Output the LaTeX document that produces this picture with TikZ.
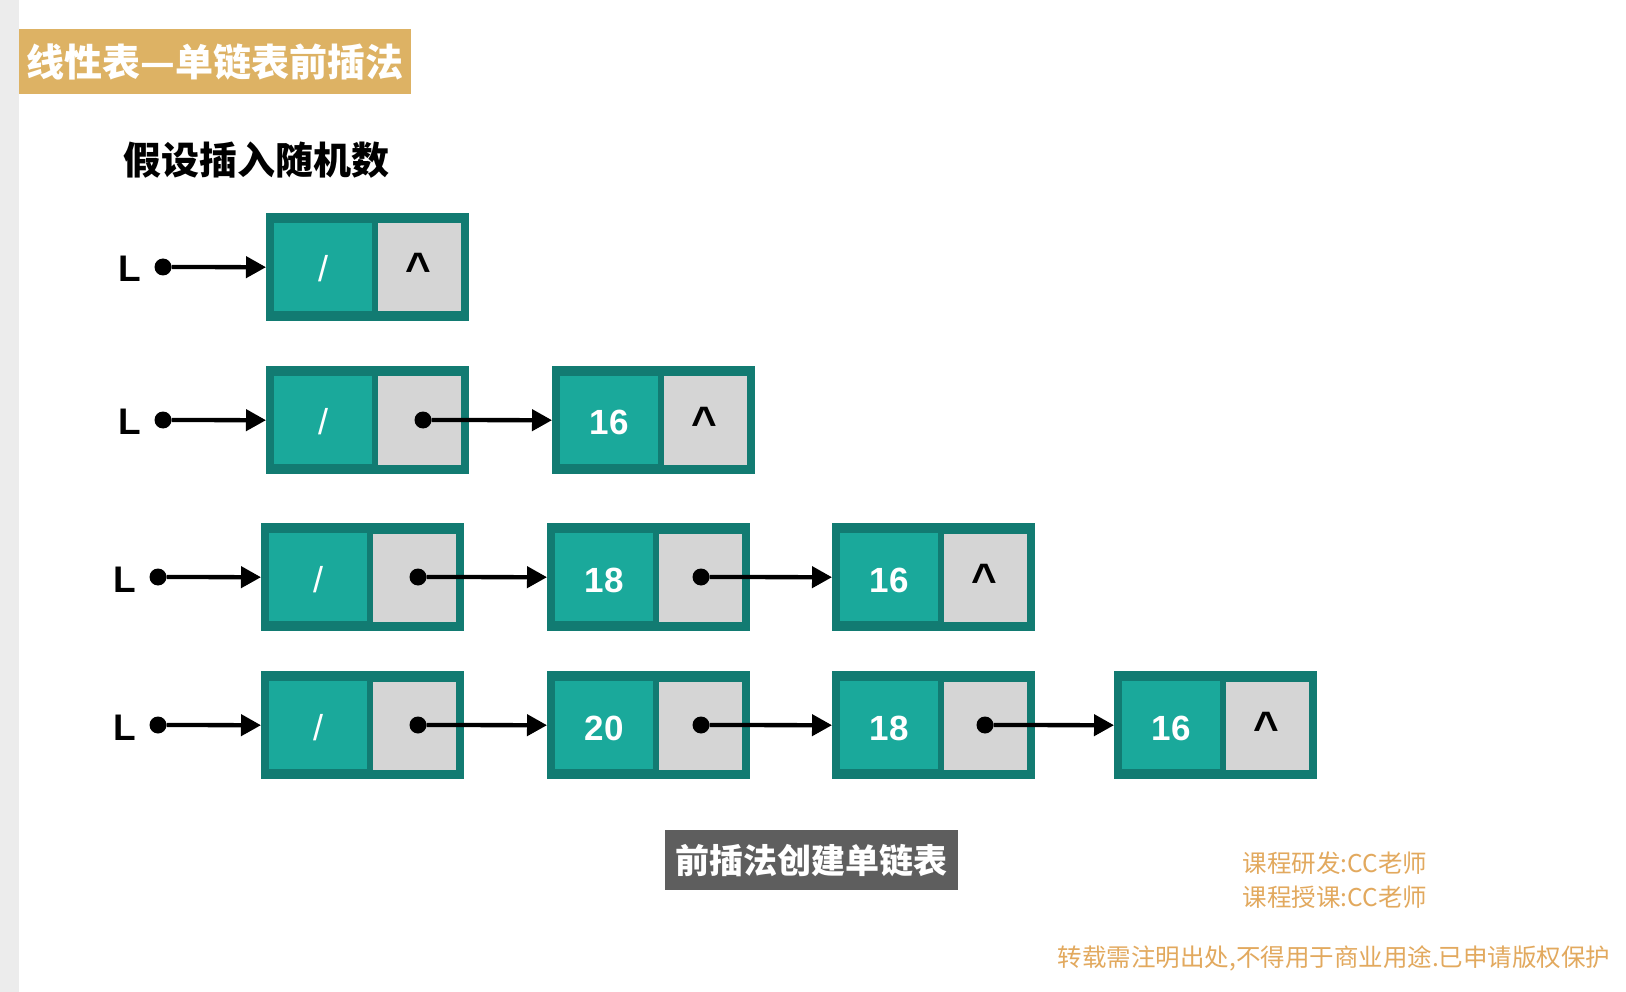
\documentclass[tikz,border=0pt]{standalone}
\usepackage{fontspec}
\setmainfont{Liberation Sans}
\newfontfamily\cjk{Noto Sans CJK SC}
\usetikzlibrary{arrows.meta}
\definecolor{stripgray}{HTML}{ECECEC}
\definecolor{gold}{HTML}{DDB264}
\definecolor{tealdark}{HTML}{127B72}
\definecolor{tealc}{HTML}{1AA99B}
\definecolor{grayc}{HTML}{D5D5D5}
\definecolor{darkbox}{HTML}{5E5E5E}
\definecolor{orangetxt}{HTML}{E2A95E}
\newcommand\lnode[3]{% name, x, ytop
  \node[outerbox] (#1) at (#2,#3) {};
  \node[datacell] (#1d) at ({#2+57},{#3+54}) {};
  \node[ptrcell] (#1g) at ({#2+153.5},{#3+54.5}) {};
}
\begin{document}
\begin{tikzpicture}[x=1pt,y=-1pt,
  outerbox/.style={fill=tealdark, minimum width=203pt, minimum height=108pt, inner sep=0pt, anchor=north west},
  datacell/.style={fill=tealc, minimum width=98pt, minimum height=88pt, inner sep=0pt},
  ptrcell/.style={fill=grayc, minimum width=83pt, minimum height=88pt, inner sep=0pt},
  valtext/.style={text=white, font=\bfseries\fontsize{35}{40}\selectfont, anchor=base, inner sep=0pt},
  slashtext/.style={text=white, font=\fontsize{36}{40}\selectfont, anchor=base, inner sep=0pt},
  carettext/.style={text=black, font=\bfseries\fontsize{44}{48}\selectfont, anchor=base, inner sep=0pt},
  ltext/.style={text=black, font=\bfseries\fontsize{37}{40}\selectfont, anchor=base, inner sep=0pt},
  blackdot/.style={circle, fill=black, minimum size=17pt, inner sep=0pt},
  link/.style={line width=4.3pt, -{Triangle[length=20pt,width=21pt]}},
]
\useasboundingbox (0,0) rectangle (1626,992);
\fill[white] (0,0) rectangle (1626,992);
\fill[stripgray] (0,0) rectangle (19,992);

% title
\node[fill=gold, minimum width=392pt, minimum height=65pt, inner sep=0pt, anchor=north west] (title) at (19,29) {};
\node[text=white, font=\cjk\bfseries\fontsize{38}{42}\selectfont, inner sep=0pt] (titletext) at (title.center) {线性表—单链表前插法};
\node[font=\cjk\bfseries\fontsize{38}{42}\selectfont, inner sep=0pt] (sub) at (256,160) {假设插入随机数};

% row 1
\node[ltext] (L1) at (130,282) {L};
\node[blackdot] (L1d) at (163,267) {};
\lnode{ra}{266}{213}
\node[slashtext] at (323,282) {/};
\node[carettext] at (418.5,284) {\textasciicircum};
\draw[link] (L1d) -- (ra.west);

% row 2
\node[ltext] (L2) at (130,435) {L};
\node[blackdot] (L2d) at (163,420) {};
\lnode{rba}{266}{366}
\node[slashtext] at (323,435) {/};
\node[blackdot] (rbap) at (423,420) {};
\lnode{rbb}{552}{366}
\node[valtext] at (609,435) {16};
\node[carettext] at (704.5,437) {\textasciicircum};
\draw[link] (L2d) -- (rba.west);
\draw[link] (rbap) -- (rbb.west);

% row 3
\node[ltext] (L3) at (125,592) {L};
\node[blackdot] (L3d) at (158,577) {};
\lnode{rca}{261}{523}
\node[slashtext] at (318,592) {/};
\node[blackdot] (rcap) at (418,577) {};
\lnode{rcb}{547}{523}
\node[valtext] at (604,592) {18};
\node[blackdot] (rcbp) at (701,577) {};
\lnode{rcc}{832}{523}
\node[valtext] at (889,592) {16};
\node[carettext] at (984.5,594) {\textasciicircum};
\draw[link] (L3d) -- (rca.west);
\draw[link] (rcap) -- (rcb.west);
\draw[link] (rcbp) -- (rcc.west);

% row 4
\node[ltext] (L4) at (125,740) {L};
\node[blackdot] (L4d) at (158,725) {};
\lnode{rda}{261}{671}
\node[slashtext] at (318,740) {/};
\node[blackdot] (rdap) at (418,725) {};
\lnode{rdb}{547}{671}
\node[valtext] at (604,740) {20};
\node[blackdot] (rdbp) at (701,725) {};
\lnode{rdc}{832}{671}
\node[valtext] at (889,740) {18};
\node[blackdot] (rdcp) at (985,725) {};
\lnode{rdd}{1114}{671}
\node[valtext] at (1171,740) {16};
\node[carettext] at (1266.5,742) {\textasciicircum};
\draw[link] (L4d) -- (rda.west);
\draw[link] (rdap) -- (rdb.west);
\draw[link] (rdbp) -- (rdc.west);
\draw[link] (rdcp) -- (rdd.west);

% caption
\node[fill=darkbox, minimum width=293pt, minimum height=60pt, inner sep=0pt, anchor=north west,
      text=white, font=\cjk\bfseries\fontsize{34}{38}\selectfont] (cap) at (665,830) {前插法创建单链表};

% footer
\node[text=orangetxt, font=\cjk\fontsize{24.5}{28}\selectfont, inner sep=0pt] (f1) at (1335,863) {课程研发:CC老师};
\node[text=orangetxt, font=\cjk\fontsize{24.5}{28}\selectfont, inner sep=0pt] (f2) at (1335,897) {课程授课:CC老师};
\node[text=orangetxt, font=\cjk\fontsize{24.5}{28}\selectfont, inner sep=0pt] (f3) at (1334,958) {转载需注明出处,不得用于商业用途.已申请版权保护};
\end{tikzpicture}
\end{document}
